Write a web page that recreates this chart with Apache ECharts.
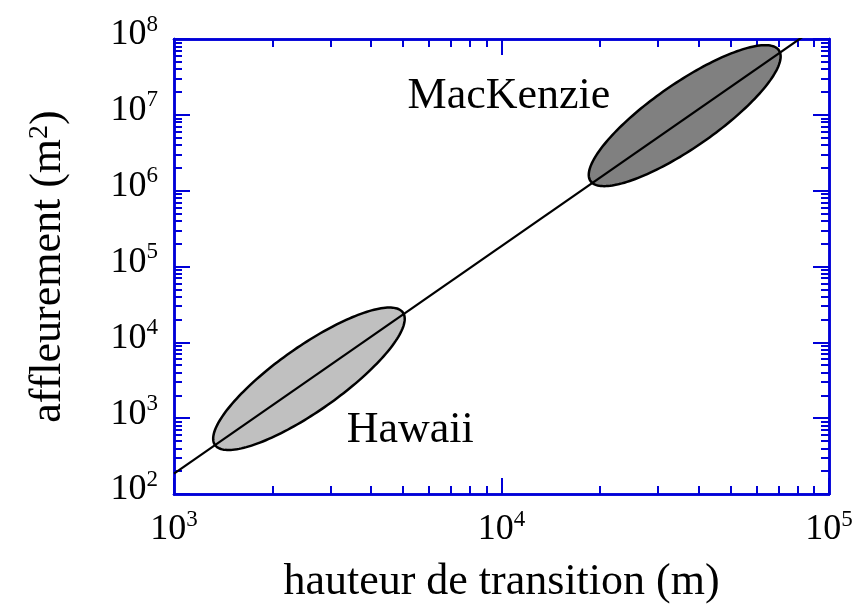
<!DOCTYPE html>
<html>
<head>
<meta charset="utf-8">
<script src="https://cdn.jsdelivr.net/npm/echarts@6/dist/echarts.min.js"></script>
<style>
html,body{margin:0;padding:0;background:#fff;}
#chart{width:859px;height:609px;}
</style>
</head>
<body>
<div id="chart"></div>
<script>
// ---- data ----
const X_MIN = 1e3, X_MAX = 1e5;
const Y_MIN = 1e2, Y_MAX = 1e8;
const X_MAJOR = [1e3, 1e4, 1e5];
const X_MINOR = [2e3, 3e3, 4e3, 5e3, 6e3, 7e3, 8e3, 9e3, 2e4, 3e4, 4e4, 5e4, 6e4, 7e4, 8e4, 9e4];
const Y_MAJOR = [1e2, 1e3, 1e4, 1e5, 1e6, 1e7, 1e8];
const Y_MINOR = [
  2e2,3e2,4e2,5e2,6e2,7e2,8e2,9e2,
  2e3,3e3,4e3,5e3,6e3,7e3,8e3,9e3,
  2e4,3e4,4e4,5e4,6e4,7e4,8e4,9e4,
  2e5,3e5,4e5,5e5,6e5,7e5,8e5,9e5,
  2e6,3e6,4e6,5e6,6e6,7e6,8e6,9e6,
  2e7,3e7,4e7,5e7,6e7,7e7,8e7,9e7
];
const X_TICK_LABELS = {1000: '3', 10000: '4', 100000: '5'};
const Y_TICK_LABELS = {100: '2', 1000: '3', 10000: '4', 100000: '5', 1000000: '6', 10000000: '7', 100000000: '8'};

// fit line (power law)
const LINE_X = [1000, 100000];
const LINE_Y = [186, 1.86e8];

// ellipses: end points of major axis, and minor/major ratio
const REGION_NAMES = ['Hawaii', 'MacKenzie'];
const REGION_START = [[1334, 443], [18700, 1.34e6]];
const REGION_END = [[5000, 24700], [70300, 7.1e7]];
const REGION_RATIO = [0.28, 0.28];
const REGION_LABEL_AT = [[5266, 690], [10540, 1.74e7]];

// ---- styles ----
const BLUE = '#0000d8';
const FONT = "'Liberation Serif', 'Times New Roman', serif";
const FILLS = ['#c0c0c0', '#808080'];

const rich = {
  b: {fontFamily: FONT, fontSize: 36, color: '#000', lineHeight: 40, verticalAlign: 'bottom'},
  s: {fontFamily: FONT, fontSize: 23, color: '#000', lineHeight: 23, verticalAlign: 'top'}
};

function axisCommon(min, max, position, major, tickVals, labelMap, isY) {
  return {
    type: 'log', logBase: 10, min: min, max: max, position: position,
    axisLine: {show: true, onZero: false, lineStyle: {color: BLUE, width: 2.5}},
    axisTick: {show: true, inside: true, length: major ? 16 : 8, customValues: tickVals,
               lineStyle: {color: BLUE, width: 2}},
    axisLabel: labelMap ? {
      show: true, customValues: tickVals, margin: isY ? 16 : 14,
      padding: isY ? [0, 0, 12, 0] : 0,
      formatter: function (v) { return '{b|10}{s|' + labelMap[Math.round(v)] + '}'; },
      rich: rich
    } : {show: false},
    splitLine: {show: false},
    minorTick: {show: false},
    minorSplitLine: {show: false}
  };
}

const xAxes = [
  Object.assign(axisCommon(X_MIN, X_MAX, 'bottom', true, X_MAJOR, X_TICK_LABELS, false), {
    name: 'hauteur de transition (m)', nameLocation: 'middle', nameGap: 66,
    nameTextStyle: {fontFamily: FONT, fontSize: 44, color: '#000'}
  }),
  axisCommon(X_MIN, X_MAX, 'bottom', false, X_MINOR, null, false),
  axisCommon(X_MIN, X_MAX, 'top', true, X_MAJOR, null, false),
  axisCommon(X_MIN, X_MAX, 'top', false, X_MINOR, null, false)
];
const yAxes = [
  Object.assign(axisCommon(Y_MIN, Y_MAX, 'left', true, Y_MAJOR, Y_TICK_LABELS, true), {
    name: 'affleurement (m{s|2})', nameLocation: 'middle', nameGap: 104,
    nameTextStyle: {fontFamily: FONT, fontSize: 44, color: '#000',
      rich: {s: {fontFamily: FONT, fontSize: 28, color: '#000', verticalAlign: 'top', lineHeight: 28}}}
  }),
  axisCommon(Y_MIN, Y_MAX, 'left', false, Y_MINOR, null, true),
  axisCommon(Y_MIN, Y_MAX, 'right', true, Y_MAJOR, null, true),
  axisCommon(Y_MIN, Y_MAX, 'right', false, Y_MINOR, null, true)
];

const ellipseData = REGION_NAMES.map(function (n, i) {
  return [REGION_START[i][0], REGION_START[i][1], REGION_END[i][0], REGION_END[i][1], REGION_RATIO[i], i];
});
const labelData = REGION_NAMES.map(function (n, i) {
  return [REGION_LABEL_AT[i][0], REGION_LABEL_AT[i][1], i];
});

const option = {
  animation: false,
  backgroundColor: '#fff',
  grid: {left: 174, right: 30, top: 39, bottom: 106, containLabel: false},
  xAxis: xAxes,
  yAxis: yAxes,
  series: [
    {
      type: 'custom', xAxisIndex: 0, yAxisIndex: 0, z: 1, clip: true,
      encode: {x: [0, 2], y: [1, 3]},
      data: ellipseData,
      renderItem: function (params, api) {
        const p1 = api.coord([api.value(0), api.value(1)]);
        const p2 = api.coord([api.value(2), api.value(3)]);
        const ratio = api.value(4);
        const idx = api.value(5);
        const cx = (p1[0] + p2[0]) / 2, cy = (p1[1] + p2[1]) / 2;
        const dx = p2[0] - p1[0], dy = p2[1] - p1[1];
        const a = Math.sqrt(dx * dx + dy * dy) / 2;
        const b = a * ratio;
        const ux = dx / (2 * a), uy = dy / (2 * a);
        const pts = [];
        for (let k = 0; k < 180; k++) {
          const t = k / 180 * Math.PI * 2;
          const ca = Math.cos(t) * a, sb = Math.sin(t) * b;
          pts.push([cx + ca * ux - sb * uy, cy + ca * uy + sb * ux]);
        }
        return {
          type: 'polygon',
          shape: {points: pts},
          style: {fill: FILLS[idx], stroke: '#000', lineWidth: 2.5}
        };
      }
    },
    {
      type: 'line', xAxisIndex: 0, yAxisIndex: 0, z: 3, clip: true,
      data: LINE_X.map(function (x, i) { return [x, LINE_Y[i]]; }),
      showSymbol: false, symbol: 'none',
      lineStyle: {color: '#000', width: 2.2}
    },
    {
      type: 'custom', xAxisIndex: 0, yAxisIndex: 0, z: 4,
      encode: {x: 0, y: 1},
      data: labelData,
      renderItem: function (params, api) {
        const p = api.coord([api.value(0), api.value(1)]);
        return {
          type: 'text',
          style: {
            text: REGION_NAMES[api.value(2)], x: p[0], y: p[1],
            fontFamily: 'Liberation Serif', fontSize: 44, fill: '#000',
            align: 'center', verticalAlign: 'middle'
          }
        };
      }
    }
  ]
};

const chart = echarts.init(document.getElementById('chart'), null, {renderer: 'canvas'});
chart.setOption(option);
</script>
</body>
</html>
